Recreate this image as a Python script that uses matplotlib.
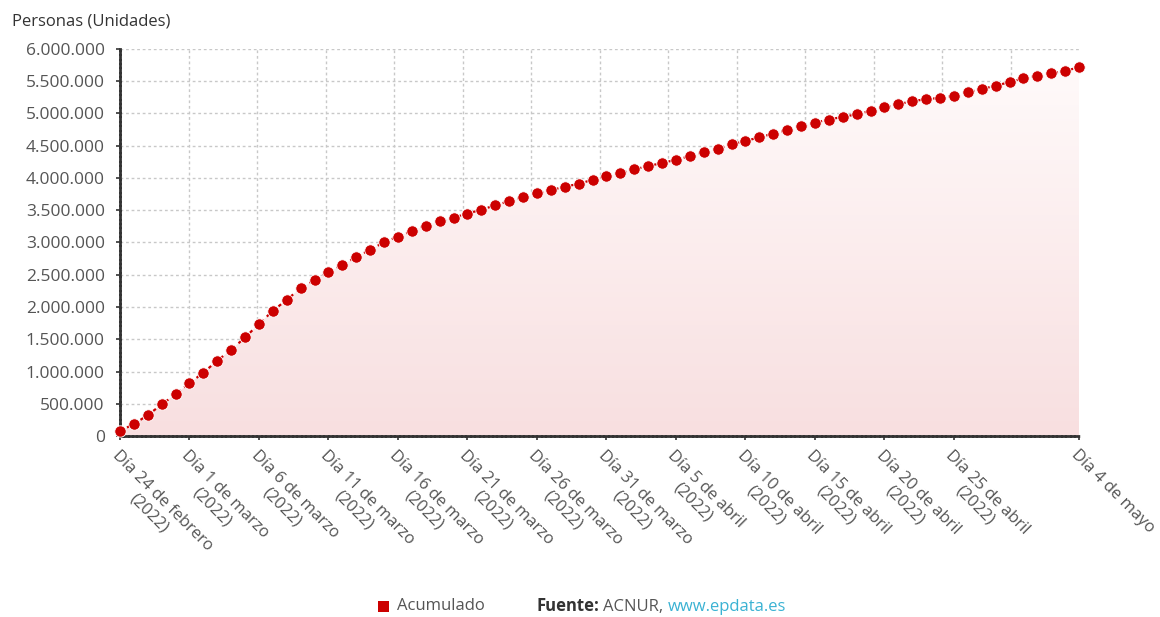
import matplotlib
matplotlib.use("Agg")
import matplotlib.pyplot as plt
import numpy as np
from matplotlib.colors import LinearSegmentedColormap
from matplotlib.patches import Rectangle
from matplotlib.ticker import FuncFormatter

plt.rcParams['font.family'] = ['Open Sans', 'DejaVu Sans']

# dias desde el 24 de febrero de 2022 (24 feb .. 4 mayo)
dias = list(range(70))

# acumulado de personas refugiadas (miles)
acumulado_miles = [
    79, 185, 324, 489, 648, 818, 983, 1168, 1338, 1528,
    1739, 1940, 2114, 2290, 2418, 2539, 2650, 2778, 2886, 3005,
    3092, 3179, 3262, 3329, 3386, 3448, 3509, 3576, 3642, 3704,
    3761, 3812, 3864, 3910, 3972, 4025, 4080, 4136, 4183, 4234,
    4281, 4339, 4397, 4453, 4522, 4573, 4631, 4688, 4745, 4808,
    4859, 4906, 4948, 4986, 5042, 5095, 5142, 5193, 5219, 5244,
    5275, 5328, 5379, 5430, 5487, 5544, 5584, 5621, 5662, 5715,
]
acumulado = np.array(acumulado_miles) * 1000

tick_dias = [0, 5, 10, 15, 20, 25, 30, 35, 40, 45, 50, 55, 60, 69]
tick_labels = [
    "Día 24 de febrero\n(2022)",
    "Día 1 de marzo\n(2022)",
    "Día 6 de marzo\n(2022)",
    "Día 11 de marzo\n(2022)",
    "Día 16 de marzo\n(2022)",
    "Día 21 de marzo\n(2022)",
    "Día 26 de marzo\n(2022)",
    "Día 31 de marzo\n(2022)",
    "Día 5 de abril\n(2022)",
    "Día 10 de abril\n(2022)",
    "Día 15 de abril\n(2022)",
    "Día 20 de abril\n(2022)",
    "Día 25 de abril\n(2022)",
    "Día 4 de mayo",
]

rojo = '#cc0000'
gris = '#555555'

fig = plt.figure(figsize=(11.6, 6.17), dpi=100)
ax = fig.add_axes([120 / 1160, 1 - 436 / 617, (1079 - 120) / 1160, (436 - 49) / 617])

x_max = dias[-1]
y_max = 6_000_000

# relleno con degradado bajo la curva
poly = ax.fill_between(dias, acumulado, color='none', lw=0)
cmap = LinearSegmentedColormap.from_list('rosa', ['#f8dfe0', '#fffbfb'])
grad = np.linspace(0, 1, 256).reshape(-1, 1)
im = ax.imshow(grad, extent=[0, x_max, 0, y_max], origin='lower', aspect='auto',
               cmap=cmap, zorder=1)
im.set_clip_path(poly.get_paths()[0], transform=ax.transData)

ax.plot(dias, acumulado, color=rojo, lw=1.6, ls=(0, (1.5, 2)), zorder=3, clip_on=False)
ax.plot(dias, acumulado, ls='none', marker='o', ms=8.2, color=rojo,
        mec='white', mew=0.6, zorder=4, clip_on=False)

ax.set_xlim(0, x_max)
ax.set_ylim(0, y_max)

# ejes y rejilla
ax.set_yticks(np.arange(0, y_max + 1, 500_000))
ax.yaxis.set_major_formatter(FuncFormatter(lambda v, p: f"{int(v):,}".replace(",", ".")))
ax.set_xticks(tick_dias)
ax.set_xticklabels(tick_labels, rotation=-45, ha='left', va='top',
                   rotation_mode='anchor', multialignment='center')
ax.set_xticks(np.linspace(0, x_max, 15), minor=True)

ax.tick_params(axis='both', which='major', colors='#333333', labelcolor=gris,
               labelsize=12, length=3, width=1.2)
ax.tick_params(axis='y', which='major', labelsize=12.5, pad=8)
ax.tick_params(axis='x', which='major', pad=5)
ax.tick_params(axis='x', which='minor', length=0)

ax.grid(axis='y', which='major', color='#c8c8c8', ls=(0, (2, 2)), lw=1, zorder=0)
ax.grid(axis='x', which='minor', color='#c8c8c8', ls=(0, (2, 2)), lw=1, zorder=0)
ax.grid(axis='x', which='major', visible=False)
ax.set_axisbelow(True)

for s in ['top', 'right']:
    ax.spines[s].set_visible(False)
for s in ['left', 'bottom']:
    ax.spines[s].set_color('#333333')
    ax.spines[s].set_linewidth(2)
    ax.spines[s].set_linestyle((0, (1, 0.6)))
    ax.spines[s].set_zorder(2)

fig.text(12 / 1160, 1 - 22 / 617, "Personas (Unidades)", fontsize=12,
         color='#333333', va='center', ha='left')

# leyenda y fuente
fig.patches.append(Rectangle((378 / 1160, 1 - 612 / 617), 11 / 1160, 11 / 617,
                             transform=fig.transFigure, color=rojo, lw=0))
fig.text(397 / 1160, 1 - 606 / 617, "Acumulado", fontsize=12, color=gris, va='center')
t1 = fig.text(536 / 1160, 1 - 606 / 617, "Fuente:", fontsize=12, color='#333333',
              fontweight='bold', va='center')
t2 = ax.annotate("ACNUR,", xy=(1, 0), xycoords=t1, xytext=(3, 0),
                 textcoords='offset points', fontsize=12, color=gris, va='bottom')
ax.annotate("www.epdata.es", xy=(1, 0), xycoords=t2, xytext=(3, 0),
            textcoords='offset points', fontsize=12, color='#3ab2d3', va='bottom')

fig.savefig('out.png', dpi=100)
